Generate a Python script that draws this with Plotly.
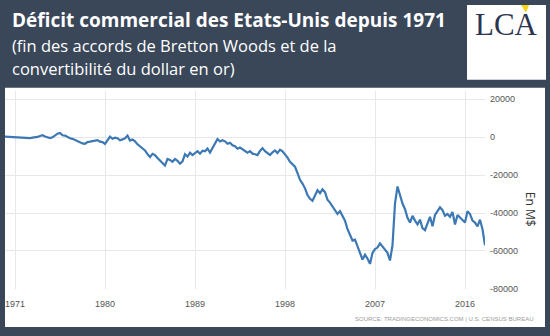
import plotly.graph_objects as go

# Quarterly US trade balance (USD millions), 1970 Q1 -> 2018 Q1
start_year = 1970
balance = [
    300, 200, 400, 100,            # 1970
    200, -100, -300, -400,         # 1971
    -400, -600, -500, -300,        # 1972
    -200, 100, 600, 1000,          # 1973
    300, -300, -500, -100,         # 1974
    800, 1800, 2200, 1000,         # 1975
    800, 0, -600, -900,            # 1976
    -1500, -2400, -2700, -3300,    # 1977
    -3500, -2600, -2400, -2200,    # 1978
    -2000, -1600, -2400, -2600,    # 1979
    -3600, -1800, 200, -900,       # 1980
    -300, -600, -1700, -1200,      # 1981
    -600, 800, -1800, -1300,       # 1982
    -2200, -3800, -5000, -6000,    # 1983
    -7000, -9000, -10500, -8800,   # 1984
    -9500, -11000, -12500, -13500, # 1985
    -15000, -11500, -12000, -13000,# 1986
    -11500, -12500, -14000, -12800,# 1987
    -9000, -10200, -8200, -9500,   # 1988
    -8300, -7400, -8700, -7200,    # 1989
    -7500, -6000, -8100, -5800,    # 1990
    -3400, -1000, -2300, -1600,    # 1991
    -2200, -3500, -3000, -4300,    # 1992
    -4800, -6100, -5500, -6300,    # 1993
    -7000, -8200, -7400, -8700,    # 1994
    -9000, -9500, -7300, -5800,    # 1995
    -7400, -8600, -9400, -8000,    # 1996
    -7000, -8400, -6600, -7500,    # 1997
    -9000, -10800, -13000, -14200, # 1998
    -15600, -19000, -22500, -24500,# 1999
    -27000, -30500, -32500, -33500,# 2000
    -31000, -28000, -29500, -27500,# 2001
    -29000, -33000, -34500, -36500,# 2002
    -38000, -40500, -39000, -41500,# 2003
    -44000, -48500, -52000, -54500,# 2004
    -54000, -57500, -61000, -64500,# 2005
    -62000, -64000, -66800, -61000,# 2006
    -59000, -58200, -56000, -57500,# 2007
    -59000, -61000, -65000, -57000,# 2008
    -35000, -26000, -30500, -35000,# 2009
    -38000, -42500, -45000, -41500,# 2010
    -44000, -46000, -43500, -48000,# 2011
    -49000, -45000, -42000, -47000,# 2012
    -41000, -39000, -37000, -38500,# 2013
    -41500, -40500, -42000, -39500,# 2014
    -46000, -41000, -42500, -44000,# 2015
    -45000, -39000, -40500, -44000,# 2016
    -45000, -47000, -43500, -48500,# 2017
    -57000,                        # 2018
]
dates = [start_year + i / 4 for i in range(len(balance))]

x_ticks = [1971, 1980, 1989, 1998, 2007, 2016]
y_ticks = [20000, 0, -20000, -40000, -60000, -80000]
y_tick_text = ["20000", "0", "-20000", "-40000", "-60000", "-80000"]

title = "Déficit commercial des Etats-Unis depuis 1971"
subtitle1 = "(fin des accords de Bretton Woods et de la"
subtitle2 = "convertibilité du dollar en or)"
source = "SOURCE: TRADINGECONOMICS.COM | U.S. CENSUS BUREAU"

W, H = 550, 336
BG = "#3a4759"

def px(x):
    return x / W

def py(y):
    return 1 - y / H

fig = go.Figure()
fig.add_trace(go.Scatter(x=dates, y=balance, mode="lines",
                         line=dict(color="#3b78b4", width=2.2), hoverinfo="skip"))

shapes = [
    # white chart panel
    dict(type="rect", xref="paper", yref="paper", x0=px(5), x1=px(545), y0=py(332), y1=py(89),
         fillcolor="white", line=dict(width=0), layer="below"),
    # logo box
    dict(type="rect", xref="paper", yref="paper", x0=px(467), x1=px(546), y0=py(81), y1=py(5),
         fillcolor="white", line=dict(width=0), layer="below"),
    # yellow accent on logo
    dict(type="path", xref="paper", yref="paper",
         path=f"M {px(521)} {py(5)} L {px(529)} {py(5)} L {px(526)} {py(13)} Z",
         fillcolor="#f3d31c", line=dict(width=0), layer="above"),
]

annotations = [
    dict(text=f"<b>{title}</b>", x=px(10), y=py(20), xref="paper", yref="paper",
         xanchor="left", yanchor="middle", showarrow=False,
         font=dict(family="Open Sans", size=19, color="white")),
    dict(text=subtitle1, x=px(10), y=py(46), xref="paper", yref="paper",
         xanchor="left", yanchor="middle", showarrow=False,
         font=dict(family="Open Sans", size=16.5, color="white")),
    dict(text=subtitle2, x=px(10), y=py(70), xref="paper", yref="paper",
         xanchor="left", yanchor="middle", showarrow=False,
         font=dict(family="Open Sans", size=16.5, color="white")),
    dict(text="LCA", x=px(506), y=py(25), xref="paper", yref="paper",
         xanchor="center", yanchor="middle", showarrow=False,
         font=dict(family="Liberation Serif", size=31, color="#2c3550")),
    dict(text="En M$", x=px(530), y=py(212), xref="paper", yref="paper",
         xanchor="center", yanchor="middle", showarrow=False, textangle=90,
         font=dict(family="Open Sans", size=12, color="#333333")),
    dict(text=source, x=px(535), y=py(324), xref="paper", yref="paper",
         xanchor="right", yanchor="middle", showarrow=False,
         font=dict(family="Liberation Sans", size=6, color="#9a9a9a")),
]

fig.update_layout(
    width=W, height=H, margin=dict(l=0, r=0, t=0, b=0),
    paper_bgcolor=BG, plot_bgcolor="rgba(0,0,0,0)",
    showlegend=False, shapes=shapes, annotations=annotations,
    xaxis=dict(domain=[px(5), px(485)], range=[1970, 2018], tickmode="array",
               tickvals=x_ticks, ticktext=[str(t) for t in x_ticks],
               showgrid=True, gridcolor="#e8e8e8", gridwidth=1, zeroline=False,
               showline=False, ticks="", ticklabelstandoff=8,
               tickfont=dict(family="Liberation Sans", size=9, color="#555555")),
    yaxis=dict(domain=[py(293.3), py(92)], range=[-80000, 24500], side="right",
               tickmode="array", tickvals=y_ticks, ticktext=y_tick_text,
               showgrid=True, gridcolor="#e8e8e8", gridwidth=1, zeroline=False,
               showline=False, ticks="", ticklabelstandoff=4,
               tickfont=dict(family="Liberation Sans", size=9, color="#555555")),
)

fig.write_html("out.html")
